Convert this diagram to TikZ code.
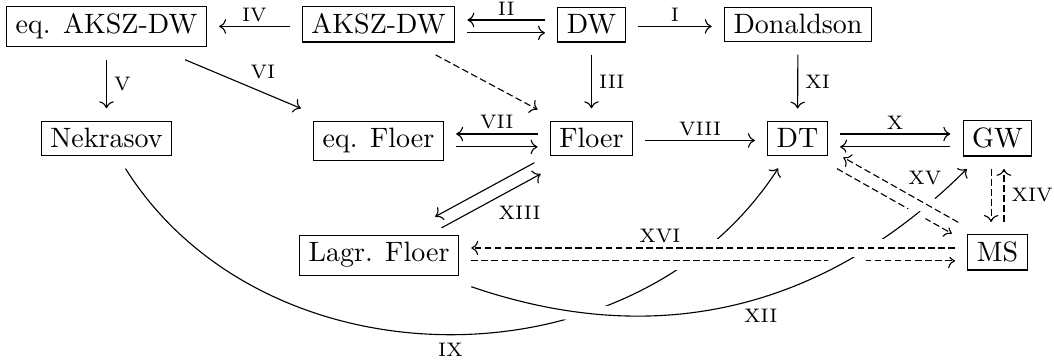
\documentclass[tikz,border=0pt]{standalone}
\usetikzlibrary{cd}
\begin{document}
\begin{tikzpicture}[x=0.35714pt,y=0.35714pt]
\tikzset{
 box/.style={draw, line width=0.4pt, inner xsep=3.2pt, inner ysep=2.65pt, outer sep=4.6pt, anchor=base},
 ar/.style={line width=0.4pt, -{cm to}},
 dsh/.style={dash pattern=on 2.4pt off 1.2pt},
 cross/.style={preaction={draw=white, solid, -, line width=6.5pt}},
 lbl/.style={font=\scriptsize, inner xsep=2.5pt, inner ysep=1.5pt},
}
\useasboundingbox (0,0) rectangle (1054,-362);
% nodes
\node[box] (eqaksz) at (106.5,-34) {eq. AKSZ-DW};
\node[box] (aksz) at (378.5,-34) {AKSZ-DW};
\node[box] (dw) at (591.5,-34) {DW};
\node[box] (don) at (798,-34) {Donaldson};
\node[box] (nek) at (106.5,-148) {Nekrasov};
\node[box] (eqfl) at (378.5,-148) {eq. Floer};
\node[box] (fl) at (591.5,-148) {Floer};
\node[box] (dt) at (797.5,-148) {DT};
\node[box] (gw) at (997.5,-148) {GW};
\node[box] (lagr) at (379,-262) {Lagr. Floer};
\node[box] (ms) at (997.5,-262) {MS};
% row 1
\draw[ar] ([yshift=2.7pt]dw.base east) -- ([yshift=2.7pt]don.base west) node[lbl, midway, above] (lI) {I};
\draw[ar] ([yshift=5pt]dw.base west) -- ([yshift=5pt]aksz.base east) node[lbl, midway, above] (lII) {II};
\draw[ar] ([yshift=0.4pt]aksz.base east) -- ([yshift=0.4pt]dw.base west);
\draw[ar] ([yshift=2.7pt]aksz.base west) -- ([yshift=2.7pt]eqaksz.base east) node[lbl, midway, above] (lIV) {IV};
% verticals
\draw[ar] (eqaksz) -- (nek) node[lbl, midway, right] (lV) {V};
\draw[ar] (dw) -- (fl) node[lbl, midway, right] (lIII) {III};
\draw[ar] (don) -- (dt) node[lbl, midway, right] (lXI) {XI};
% diagonals
\draw[ar] (eqaksz) -- (eqfl) node[lbl, midway, above right] (lVI) {VI};
\draw[ar, dsh] (aksz) -- (fl);
% row 2
\draw[ar] ([yshift=5pt]fl.base west) -- ([yshift=5pt]eqfl.base east) node[lbl, midway, above] (lVII) {VII};
\draw[ar] ([yshift=0.4pt]eqfl.base east) -- ([yshift=0.4pt]fl.base west);
\draw[ar] ([yshift=2.7pt]fl.base east) -- ([yshift=2.7pt]dt.base west) node[lbl, midway, above] (lVIII) {VIII};
\draw[ar] ([yshift=5pt]dt.base east) -- ([yshift=5pt]gw.base west) node[lbl, midway, above] (lX) {X};
\draw[ar] ([yshift=0.4pt]gw.base west) -- ([yshift=0.4pt]dt.base east);
% XIII
\draw[ar] ([shift={(-1.12pt,2.01pt)}]fl.209.04) -- ([shift={(-1.12pt,2.01pt)}]lagr.29.04);
\draw[ar] ([shift={(1.12pt,-2.01pt)}]lagr.29.04) -- ([shift={(1.12pt,-2.01pt)}]fl.209.04) node[lbl, midway, below right] (lXIII) {XIII};
% XIV
\draw[ar, dsh] ([xshift=-2.3pt]gw.south) -- ([xshift=-2.3pt]ms.north);
\draw[ar, dsh] ([xshift=2.3pt]ms.north) -- ([xshift=2.3pt]gw.south) node[lbl, midway, right] (lXIV) {XIV};
% curves and crossings
\draw[ar] (nek) .. controls (265,-390) and (635,-390) .. (dt) node[lbl, pos=0.5, below, yshift=-1.2pt] (lIX) {IX};
\draw[ar, dsh, cross] ([yshift=0.4pt]lagr.base east) -- ([yshift=0.4pt]ms.base west);
\draw[ar, dsh, cross] ([shift={(-1.14pt,-2pt)}]dt.330.32) -- ([shift={(-1.14pt,-2pt)}]ms.150.32);
\draw[ar, cross] (lagr) .. controls (659,-351) and (826,-309) .. (gw) node[lbl, pos=0.5, below right] (lXII) {XII};
\draw[ar, dsh, cross] ([yshift=5pt]ms.base west) -- ([yshift=5pt]lagr.base east) node[lbl, pos=0.61, above] (lXVI) {XVI};
\draw[ar, dsh, cross] ([shift={(1.14pt,2pt)}]ms.150.32) -- ([shift={(1.14pt,2pt)}]dt.330.32) node[lbl, midway, above right] (lXV) {XV};
\end{tikzpicture}
\end{document}
